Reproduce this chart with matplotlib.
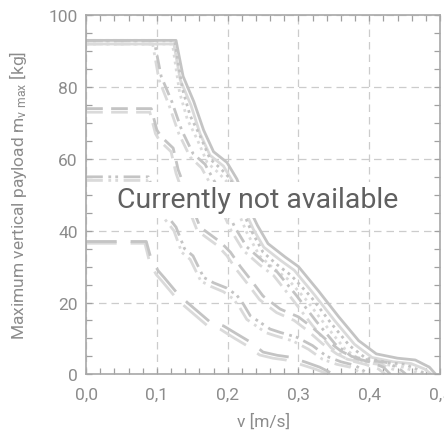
import matplotlib
matplotlib.use("Agg")
import matplotlib.pyplot as plt
from matplotlib.ticker import MultipleLocator, FuncFormatter

plt.rcParams['font.family'] = ['Roboto', 'DejaVu Sans']

# curves: speed v [m/s] and payload m [kg]
v_solid = [0, 0.127, 0.137, 0.152, 0.166, 0.18, 0.199, 0.213, 0.226, 0.242, 0.257, 0.281, 0.30,
           0.328, 0.357, 0.385, 0.41, 0.44, 0.465, 0.485, 0.494]
m_solid = [93, 93, 83, 76, 68, 62, 59, 54.4, 48, 41.5, 36.4, 32.7, 30, 23.3, 16, 9.4, 5.7, 4.5, 4, 2, 0]
v_solid_b = [0, 0.124, 0.133, 0.148, 0.161, 0.175, 0.194, 0.208, 0.221, 0.236, 0.251, 0.275, 0.294,
             0.322, 0.351, 0.379, 0.404, 0.434, 0.459, 0.478, 0.488]
m_solid_b = [92, 92, 82, 75, 67, 61, 58, 53.4, 47, 40.5, 35.4, 31.7, 29, 22.3, 15, 8.4, 4.7, 3.5, 3, 1.5, 0]

v_dot = [0, 0.125, 0.136, 0.147, 0.161, 0.175, 0.19, 0.204, 0.218, 0.232, 0.25, 0.27, 0.29,
         0.318, 0.345, 0.372, 0.395, 0.425, 0.45, 0.47, 0.48]
m_dot = [93, 93, 79.5, 72, 66.4, 60, 57.3, 54.4, 47, 40.5, 34, 30.5, 27.5, 21.5, 14.5, 8, 4.5, 3.3, 2.8, 1.2, 0]
v_dot_b = [0, 0.122, 0.132, 0.143, 0.157, 0.171, 0.186, 0.2, 0.213, 0.227, 0.245, 0.265, 0.285,
           0.312, 0.339, 0.366, 0.389, 0.418, 0.443, 0.462, 0.472]
m_dot_b = [92, 92, 78.5, 71, 65.4, 59, 56.3, 53.4, 46, 39.5, 33, 29.5, 26.5, 20.5, 13.5, 7, 3.8, 2.8, 2.3, 1, 0]

v_dd = [0, 0.096, 0.106, 0.121, 0.135, 0.151, 0.168, 0.182, 0.196, 0.21, 0.227, 0.25, 0.27,
        0.297, 0.325, 0.352, 0.375, 0.403, 0.425, 0.443, 0.452]
m_dd = [93, 93, 83, 76, 68, 61.5, 58.5, 53.5, 47, 41, 35.5, 31.5, 28.5, 22, 14.8, 8.4, 5, 3.8, 3.3, 1.5, 0]
v_dd_b = [0, 0.094, 0.103, 0.117, 0.131, 0.147, 0.163, 0.177, 0.191, 0.205, 0.222, 0.245, 0.265,
          0.291, 0.319, 0.346, 0.369, 0.396, 0.418, 0.436, 0.445]
m_dd_b = [92, 92, 82, 75, 67, 60.5, 57.5, 52.5, 46, 40, 34.5, 30.5, 27.5, 21, 13.8, 7.4, 4.2, 3.2, 2.7, 1.2, 0]

v_74 = [0, 0.092, 0.096, 0.100, 0.107, 0.123, 0.130, 0.145, 0.161, 0.19, 0.204, 0.218, 0.232, 0.25,
        0.274, 0.30, 0.32, 0.34, 0.36, 0.38, 0.40, 0.42, 0.43]
m_74 = [74, 74, 71, 68, 66, 63, 57, 49, 41, 36.8, 34, 30, 26.5, 21.8, 18.2, 16, 13, 9.5, 6.5, 4.5, 3.5, 2, 0]
v_74_b = [0, 0.090, 0.094, 0.098, 0.104, 0.120, 0.127, 0.141, 0.157, 0.186, 0.199, 0.213, 0.227, 0.245,
          0.269, 0.294, 0.314, 0.334, 0.354, 0.374, 0.394, 0.413, 0.423]
m_74_b = [73, 73, 70, 67, 65, 62, 56, 48, 40, 35.8, 33, 29, 25.5, 20.8, 17.2, 15, 12, 8.5, 5.7, 3.8, 2.8, 1.5, 0]

v_55 = [0, 0.088, 0.095, 0.105, 0.115, 0.127, 0.139, 0.151, 0.166, 0.18, 0.199, 0.213, 0.222, 0.232,
        0.26, 0.274, 0.298, 0.32, 0.34, 0.36, 0.38, 0.40]
m_55 = [55, 55, 51, 47, 44, 41, 35, 33, 27, 25.5, 24, 22, 19.6, 16.3, 12.6, 11.7, 10.3, 8, 5, 3.5, 2.5, 0]
v_55_b = [0, 0.086, 0.093, 0.102, 0.112, 0.124, 0.135, 0.147, 0.162, 0.176, 0.194, 0.208, 0.217, 0.227,
          0.254, 0.268, 0.292, 0.314, 0.334, 0.354, 0.373, 0.393]
m_55_b = [54, 54, 50, 46, 43, 40, 34, 32, 26, 24.5, 23, 21, 18.6, 15.3, 11.6, 10.7, 9.3, 7, 4.2, 2.8, 2, 0]

v_37 = [0, 0.085, 0.092, 0.102, 0.11, 0.127, 0.143, 0.175, 0.194, 0.215, 0.232, 0.25, 0.27, 0.288,
        0.31, 0.33, 0.35]
m_37 = [37, 37, 32, 28.8, 27, 23, 20, 14.6, 13.5, 11, 9, 6.2, 5.3, 4.8, 3.4, 2, 0]
v_37_b = [0, 0.083, 0.09, 0.099, 0.107, 0.124, 0.139, 0.171, 0.19, 0.21, 0.227, 0.245, 0.264, 0.282,
          0.304, 0.323, 0.343]
m_37_b = [36.5, 36.5, 31, 27.8, 26, 22, 19, 13.6, 12.5, 10, 8, 5.4, 4.5, 4, 2.7, 1.5, 0]

curves = [
    (v_solid_b, m_solid_b, '-', '#dadada'), (v_solid, m_solid, '-', '#c4c4c4'),
    (v_dot_b, m_dot_b, (0, (1, 1.5)), '#dadada'), (v_dot, m_dot, (0, (1, 1.5)), '#c4c4c4'),
    (v_dd_b, m_dd_b, (0, (5, 2, 1, 2)), '#dadada'), (v_dd, m_dd, (0, (5, 2, 1, 2)), '#c4c4c4'),
    (v_74_b, m_74_b, (0, (6, 3)), '#dadada'), (v_74, m_74, (0, (6, 3)), '#c4c4c4'),
    (v_55_b, m_55_b, (0, (6, 2, 1, 1.5, 1, 2)), '#dadada'), (v_55, m_55, (0, (6, 2, 1, 1.5, 1, 2)), '#c4c4c4'),
    (v_37_b, m_37_b, (0, (11, 5)), '#dadada'), (v_37, m_37, (0, (11, 5)), '#c4c4c4'),
]

fig = plt.figure(figsize=(4.44, 4.39), dpi=100)
ax = fig.add_axes([0.194, 0.145, 0.797, 0.818])

for v, m, ls, c in curves:
    ax.plot(v, m, linestyle=ls, color=c, lw=2.0, solid_capstyle='butt')

ax.set_xlim(0, 0.5)
ax.set_ylim(0, 100)
ax.xaxis.set_major_locator(MultipleLocator(0.1))
ax.xaxis.set_minor_locator(MultipleLocator(0.02))
ax.yaxis.set_major_locator(MultipleLocator(20))
ax.yaxis.set_minor_locator(MultipleLocator(5))
ax.xaxis.set_major_formatter(FuncFormatter(lambda x, p: f"{x:.1f}".replace('.', ',')))
ax.grid(True, which='major', linestyle=(0, (6, 4)), color='#cccccc', lw=0.9)
ax.tick_params(which='both', direction='in', top=True, right=True, color='#a0a0a0',
               labelcolor='#8c8c8c', labelsize=12.5, length=4, width=0.9)
ax.tick_params(axis='x', which='major', pad=9)
ax.tick_params(axis='y', which='major', pad=6)
for s in ax.spines.values():
    s.set_color('#a8a8a8')
    s.set_linewidth(1.2)

ax.set_xlabel('v [m/s]', color='#8c8c8c', fontsize=12.5, labelpad=8)
ax.set_ylabel('Maximum vertical payload m$\\mathregular{_{v\\ max}}$ [kg]', color='#8c8c8c',
              fontsize=12.5, labelpad=14)

ax.text(0.243, 48.6, 'Currently not available', ha='center', va='center', fontsize=20.5,
        color='#606060', zorder=10,
        bbox=dict(facecolor='white', edgecolor='none', pad=3))

fig.savefig('out.png', dpi=100)
